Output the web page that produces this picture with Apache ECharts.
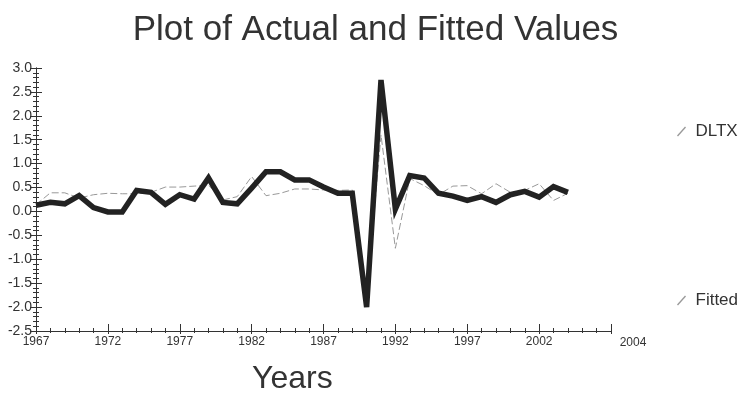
<!DOCTYPE html>
<html>
<head>
<meta charset="utf-8">
<script src="https://cdn.jsdelivr.net/npm/echarts@6/dist/echarts.min.js"></script>
<style>
html,body{margin:0;padding:0;background:#fff;}
#chart{width:751px;height:396px;}
</style>
</head>
<body>
<div id="chart"></div>
<script>
var years = [1967,1968,1969,1970,1971,1972,1973,1974,1975,1976,
             1977,1978,1979,1980,1981,1982,1983,1984,1985,1986,
             1987,1988,1989,1990,1991,1992,1993,1994,1995,1996,
             1997,1998,1999,2000,2001,2002,2003,2004];
var dltx = [0.13,0.19,0.16,0.33,0.08,-0.01,-0.01,0.44,0.40,0.15,
            0.35,0.26,0.70,0.19,0.16,0.49,0.83,0.83,0.66,0.66,
            0.51,0.38,0.38,-2.00,2.75,0.05,0.75,0.70,0.38,0.32,
            0.23,0.31,0.19,0.35,0.42,0.30,0.52,0.40];
var fitted = [0.14,0.39,0.39,0.28,0.35,0.38,0.37,0.37,0.40,0.51,
              0.51,0.53,0.55,0.24,0.31,0.73,0.33,0.38,0.47,0.47,
              0.45,0.44,0.45,-1.85,1.60,-0.77,0.69,0.54,0.35,0.53,
              0.54,0.37,0.58,0.40,0.44,0.58,0.23,0.38];
var xTickLabels = {1967:'1967',1972:'1972',1977:'1977',1982:'1982',1987:'1987',1992:'1992',1997:'1997',2002:'2002',2007:'2004'};
var titleText = 'Plot of Actual and Fitted Values';
var xName = 'Years';

function pairs(vals){ return years.map(function(y,i){ return [y, vals[i]]; }); }

var chart = echarts.init(document.getElementById('chart'), null, {renderer:'canvas'});
var txt = '#333';
var font = 'Liberation Sans, Arial, sans-serif';
var axisCommon = {
  type:'value', min:-2.5, max:3.0, interval:0.5, splitNumber:5,
  splitLine:{show:false},
  axisLine:{show:true, onZero:false, lineStyle:{color:'#333', width:1}}
};
var xCommon = {
  type:'value', min:1967, max:2007, interval:5,
  splitLine:{show:false},
  axisLine:{show:true, onZero:false, lineStyle:{color:'#333', width:1}}
};
chart.setOption({
  backgroundColor:'#fff',
  animation:false,
  title:[
    {text:titleText, left:'center', top:8, textStyle:{fontFamily:font, fontSize:35, fontWeight:'normal', color:txt}},
    {text:xName, left:247, top:358, textStyle:{fontFamily:font, fontSize:32, fontWeight:'normal', color:txt}}
  ],
  grid:{left:36, right:140, top:68, bottom:65},
  legend:{
    orient:'vertical', left:672, top:118, itemGap:152, itemWidth:10, itemHeight:10,
    icon:'path://M0,10 L8,1 L9,2 L1,11 Z',
    data:['DLTX','Fitted'],
    textStyle:{fontFamily:font, fontSize:17, color:txt, padding:[0,0,0,4]}
  },
  xAxis:[
    Object.assign({}, xCommon, {
      position:'bottom',
      axisTick:{show:true, inside:true, length:7, lineStyle:{color:'#333'}},
      minorTick:{show:true, splitNumber:5, length:3, lineStyle:{color:'#333'}},
      axisLabel:{
        fontFamily:font, fontSize:12, color:txt, margin:5,
        formatter:function(v){ var s = xTickLabels[v] || ''; return v===2007 ? '{e|'+s+'}' : s; },
        rich:{e:{fontFamily:font, fontSize:12, color:txt, padding:[1,0,0,44]}}
      }
    }),
    Object.assign({}, xCommon, {
      position:'bottom', gridIndex:0,
      axisTick:{show:true, inside:false, length:3, lineStyle:{color:'#333'}},
      minorTick:{show:true, splitNumber:5, length:2, lineStyle:{color:'#333'}},
      axisLabel:{show:false}
    })
  ],
  yAxis:[
    Object.assign({}, axisCommon, {
      position:'left',
      axisTick:{show:true, inside:false, length:6, lineStyle:{color:'#333'}},
      minorTick:{show:true, splitNumber:5, length:3, lineStyle:{color:'#333'}},
      axisLabel:{fontFamily:font, fontSize:14, color:txt, margin:4,
        formatter:function(v){ return v.toFixed(1); }}
    }),
    Object.assign({}, axisCommon, {
      position:'left', offset:0,
      axisTick:{show:true, inside:true, length:6, lineStyle:{color:'#333'}},
      minorTick:{show:true, splitNumber:5, length:3, lineStyle:{color:'#333'}},
      axisLabel:{show:false}
    })
  ],
  series:[
    {name:'Fitted', type:'line', data:pairs(fitted), symbol:'none', z:2,
     itemStyle:{color:'#999'},
     lineStyle:{color:'#999', width:1, type:[7,3]}},
    {name:'DLTX', type:'line', data:pairs(dltx), symbol:'none', z:3,
     itemStyle:{color:'#999'},
     lineStyle:{color:'#222', width:5.5, join:'miter'}}
  ]
});
</script>
</body>
</html>
